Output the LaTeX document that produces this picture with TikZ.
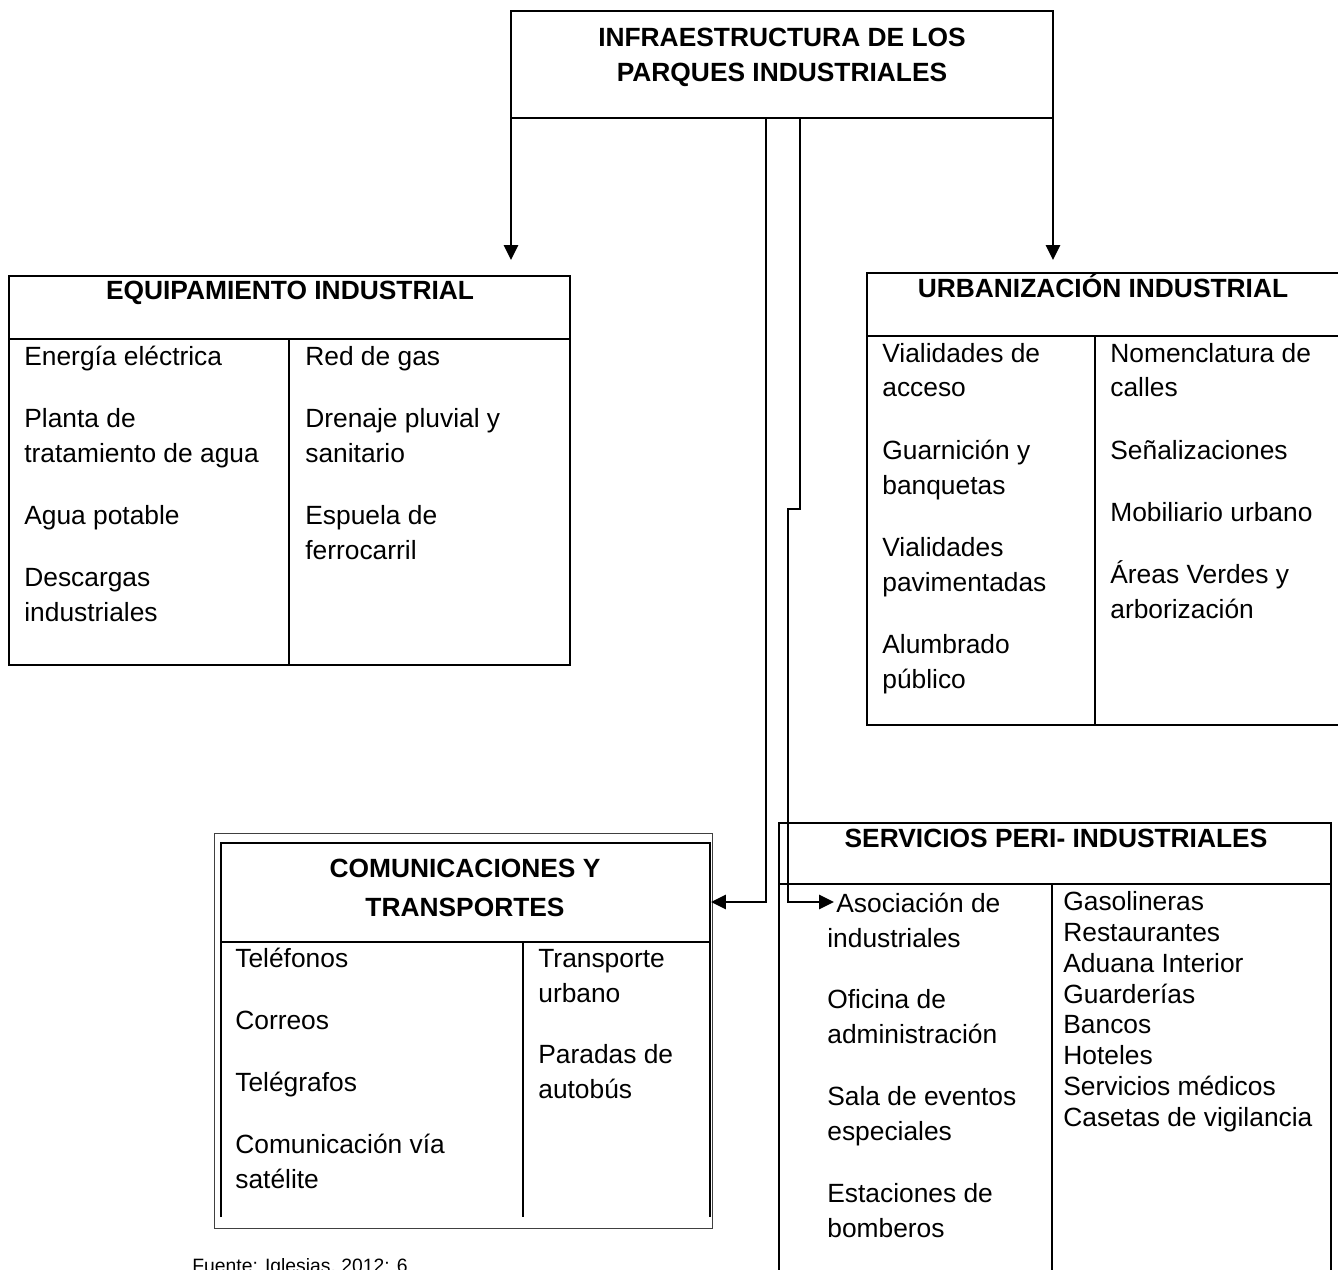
\documentclass[tikz,border=0pt]{standalone}
\usepackage{fontspec}
\setmainfont{Liberation Sans}
\usetikzlibrary{arrows.meta,fit}

\begin{document}
\begin{tikzpicture}[x=0.02cm, y=-0.02cm,
    caja/.style={draw, line width=1.1pt, inner sep=0pt, outer sep=0pt},
    linea/.style={line width=1.1pt},
    titulo/.style={anchor=base, align=center, font=\fontsize{15}{20}\selectfont\bfseries},
    item/.style={anchor=base west, align=left, inner sep=0pt, font=\fontsize{15}{19.9}\selectfont},
    flecha/.style={line width=1.4pt, -{Triangle[length=8.5pt,width=8pt]}}]
  \useasboundingbox (0,0) rectangle (1338,1270);

  % caja principal (base = ultima linea)
  \node[caja, line width=0.6pt, fit={(511,11) (1053,118)}] (infra) {};
  \node[titulo] (infra-t) at (782,82) {INFRAESTRUCTURA DE LOS\\PARQUES INDUSTRIALES};

  % equipamiento
  \node[caja, fit={(9,276) (570,665)}] (equip) {};
  \draw[linea] (9,339) -- (570,339) (289,339) -- (289,665);
  \node[titulo] (equip-t) at (290,300) {EQUIPAMIENTO INDUSTRIAL};
  \foreach \y/\txt [count=\i] in {365/Energía eléctrica, 462/{Planta de\\tratamiento de agua},
      524/Agua potable, 621/{Descargas\\industriales}}
    \node[item] (eq-a\i) at (24,\y) {\txt};
  \foreach \y/\txt [count=\i] in {365/Red de gas, 462/{Drenaje pluvial y\\sanitario},
      559/{Espuela de\\ferrocarril}}
    \node[item] (eq-b\i) at (305,\y) {\txt};

  % urbanizacion
  \node[caja, fit={(867,273) (1341,725)}] (urb) {};
  \draw[linea] (867,336) -- (1341,336) (1095,336) -- (1095,725);
  \node[titulo] (urb-t) at (1103,298) {URBANIZACIÓN INDUSTRIAL};
  \foreach \y/\txt [count=\i] in {397/{Vialidades de\\acceso}, 494/{Guarnición y\\banquetas},
      591/{Vialidades\\pavimentadas}, 688/{Alumbrado\\público}}
    \node[item] (urb-a\i) at (882,\y) {\txt};
  \foreach \y/\txt [count=\i] in {397/{Nomenclatura de\\calles}, 459/Señalizaciones,
      521/Mobiliario urbano, 618/{Áreas Verdes y\\arborización}}
    \node[item] (urb-b\i) at (1110,\y) {\txt};

  % comunicaciones
  \node[caja, line width=0.5pt, draw=black!75, fit={(214,833) (712,1228)}] (com) {};
  \draw[linea] (221,1217) -- (221,843) -- (710,843) -- (710,1217);
  \draw[linea] (221,942) -- (710,942) (523,942) -- (523,1217);
  \node[titulo] (com-t) at (465,916) {COMUNICACIONES Y\\[0.06cm]TRANSPORTES};
  \foreach \y/\txt [count=\i] in {967/Teléfonos, 1029/Correos, 1091/Telégrafos,
      1188/{Comunicación vía\\satélite}}
    \node[item] (com-a\i) at (235,\y) {\txt};
  \foreach \y/\txt [count=\i] in {1002/{Transporte\\urbano}, 1098/{Paradas de\\autobús}}
    \node[item] (com-b\i) at (538,\y) {\txt};

  % servicios
  \node[caja, fit={(779,823) (1331,1290)}] (serv) {};
  \draw[linea] (779,884) -- (1331,884) (1052,884) -- (1052,1290);
  \node[titulo] (serv-t) at (1056,847) {SERVICIOS PERI- INDUSTRIALES};
  \foreach \y/\txt [count=\i] in {947/{\hspace*{0.18cm}Asociación de\\industriales},
      1043/{Oficina de\\administración}, 1140/{Sala de eventos\\especiales},
      1237/{Estaciones de\\bomberos}}
    \node[item] (serv-a\i) at (827,\y) {\txt};
  \node[item, font=\fontsize{15}{17.5}\selectfont] (serv-b) at (1063,1126)
    {Gasolineras\\Restaurantes\\Aduana Interior\\Guarderías\\Bancos\\Hoteles\\Servicios médicos\\Casetas de vigilancia};

  % conectores
  \coordinate (c1) at (766,118);
  \coordinate (c2) at (800,118);
  \coordinate (k1) at (711,902);
  \coordinate (k2) at (788,509);
  \coordinate (k3) at (834,902);
  \draw[flecha] (infra.south west) -- ++(0,142);
  \draw[flecha] (infra.south east) -- ++(0,142);
  \draw[flecha] (c1) |- (k1);
  \draw[flecha] (c2) |- (k2) |- (k3);

  \node[item, font=\fontsize{11}{13}\selectfont] (fuente) at (192,1272) {Fuente: Iglesias, 2012: 6};
\end{tikzpicture}
\end{document}
